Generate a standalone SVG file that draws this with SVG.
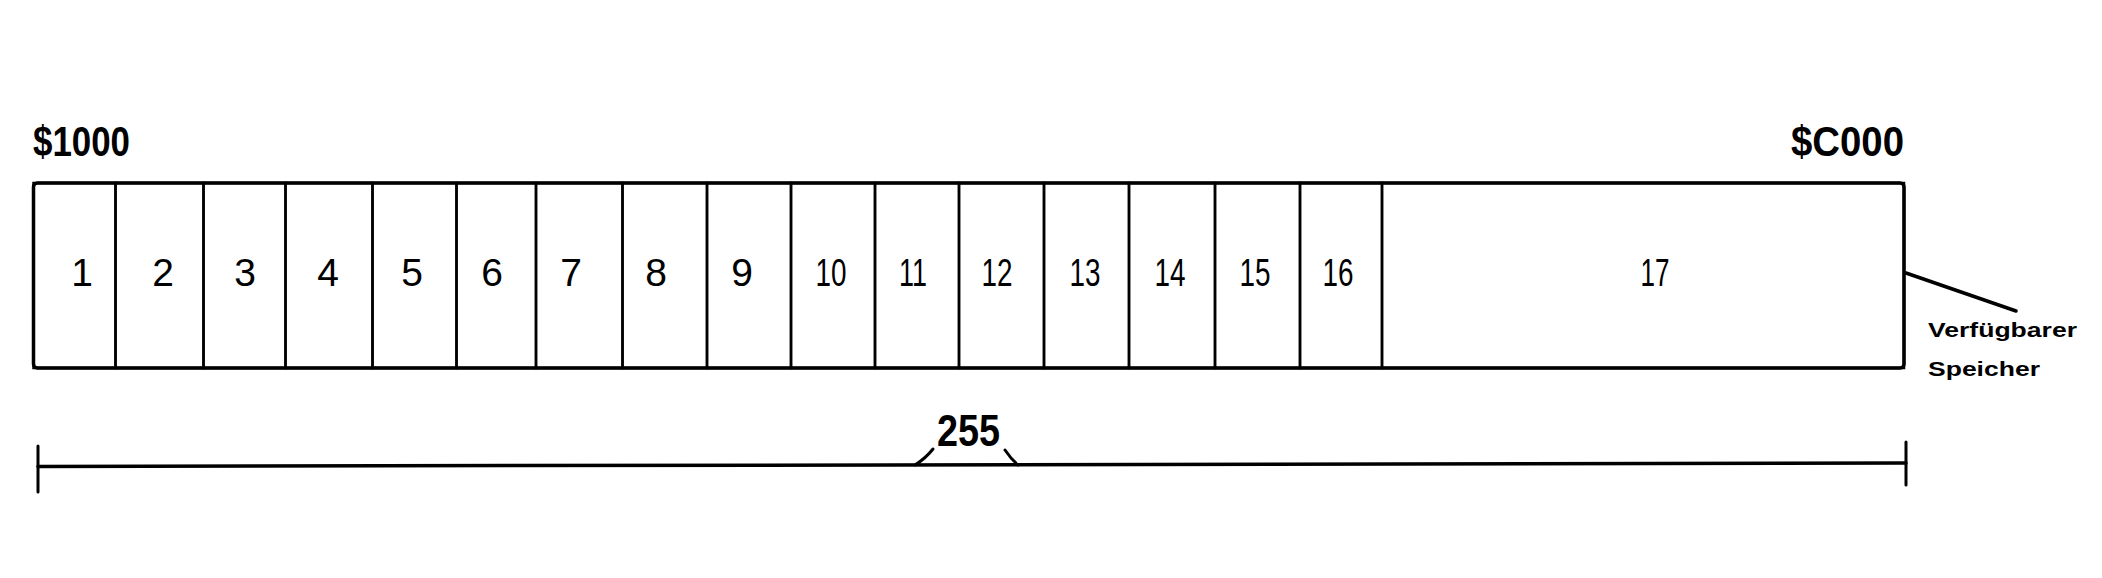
<svg xmlns="http://www.w3.org/2000/svg" width="2102" height="578" viewBox="0 0 2102 578">
<style>
  .cell { fill: none; stroke: #000; stroke-width: 2.5; }
  .num { font-family: "Liberation Sans", Arial, sans-serif; font-size: 39px; fill: #000; text-anchor: middle; }
  .addr { font-family: "Liberation Sans", Arial, sans-serif; font-size: 43px; font-weight: bold; fill: #000; }
  .note { font-family: "Liberation Sans", Arial, sans-serif; font-size: 21px; font-weight: bold; fill: #000; }
  .line { fill: none; stroke: #000; stroke-width: 3.5; stroke-linecap: round; }
  .thin { fill: none; stroke: #000; stroke-width: 3; stroke-linecap: round; }
</style>
<rect width="2102" height="578" fill="#fff"/>

<g id="label-start"><text class="addr" x="33" y="156" textLength="97" lengthAdjust="spacingAndGlyphs">$1000</text></g>
<g id="label-end"><text class="addr" x="1791" y="156" textLength="113" lengthAdjust="spacingAndGlyphs">$C000</text></g>

<g id="memory">
  <rect x="33.5" y="183" width="1870.5" height="185" rx="4" fill="none" stroke="#000" stroke-width="3.5"/>
</g>

<g id="cell-1"><rect class="cell" x="33.5" y="183" width="82" height="185"/><text class="num" x="82" y="286">1</text></g>
<g id="cell-2"><rect class="cell" x="115.5" y="183" width="88" height="185"/><text class="num" x="163" y="286">2</text></g>
<g id="cell-3"><rect class="cell" x="203.5" y="183" width="82" height="185"/><text class="num" x="245" y="286">3</text></g>
<g id="cell-4"><rect class="cell" x="285.5" y="183" width="87" height="185"/><text class="num" x="328" y="286">4</text></g>
<g id="cell-5"><rect class="cell" x="372.5" y="183" width="84" height="185"/><text class="num" x="412" y="286">5</text></g>
<g id="cell-6"><rect class="cell" x="456.5" y="183" width="79.5" height="185"/><text class="num" x="492" y="286">6</text></g>
<g id="cell-7"><rect class="cell" x="536" y="183" width="86.5" height="185"/><text class="num" x="571" y="286">7</text></g>
<g id="cell-8"><rect class="cell" x="622.5" y="183" width="84.5" height="185"/><text class="num" x="656" y="286">8</text></g>
<g id="cell-9"><rect class="cell" x="707" y="183" width="84" height="185"/><text class="num" x="742" y="286">9</text></g>
<g id="cell-10"><rect class="cell" x="791" y="183" width="84" height="185"/><text class="num" x="831" y="286" textLength="31" lengthAdjust="spacingAndGlyphs">10</text></g>
<g id="cell-11"><rect class="cell" x="875" y="183" width="84" height="185"/><text class="num" x="913" y="286" textLength="28" lengthAdjust="spacingAndGlyphs">11</text></g>
<g id="cell-12"><rect class="cell" x="959" y="183" width="85" height="185"/><text class="num" x="997" y="286" textLength="31" lengthAdjust="spacingAndGlyphs">12</text></g>
<g id="cell-13"><rect class="cell" x="1044" y="183" width="85" height="185"/><text class="num" x="1085" y="286" textLength="31" lengthAdjust="spacingAndGlyphs">13</text></g>
<g id="cell-14"><rect class="cell" x="1129" y="183" width="86" height="185"/><text class="num" x="1170" y="286" textLength="31" lengthAdjust="spacingAndGlyphs">14</text></g>
<g id="cell-15"><rect class="cell" x="1215" y="183" width="85" height="185"/><text class="num" x="1255" y="286" textLength="31" lengthAdjust="spacingAndGlyphs">15</text></g>
<g id="cell-16"><rect class="cell" x="1300" y="183" width="82" height="185"/><text class="num" x="1338" y="286" textLength="31" lengthAdjust="spacingAndGlyphs">16</text></g>
<g id="cell-17"><rect class="cell" x="1382" y="183" width="522" height="185"/><text class="num" x="1655" y="286" textLength="29" lengthAdjust="spacingAndGlyphs">17</text></g>

<g id="note"><text class="note" x="1928" y="337" textLength="149" lengthAdjust="spacingAndGlyphs">Verfügbarer</text><text class="note" x="1928" y="376" textLength="112" lengthAdjust="spacingAndGlyphs">Speicher</text></g>

<g id="dim-label"><text x="937" y="446" font-family="Liberation Sans, Arial, sans-serif" font-size="44" font-weight="bold" textLength="63" lengthAdjust="spacingAndGlyphs">255</text></g>

<g id="connectors">
  <line class="line" x1="1906" y1="273" x2="2016" y2="311"/>
  <line class="line" x1="38" y1="466.5" x2="1906" y2="463"/>
  <line class="thin" x1="38" y1="446" x2="38" y2="492"/>
  <line class="thin" x1="1906" y1="442" x2="1906" y2="485"/>
  <path class="thin" d="M915,465 Q926,458 933,449"/>
  <path class="thin" d="M1005,450 Q1011,459 1018,465"/>
</g>
</svg>
